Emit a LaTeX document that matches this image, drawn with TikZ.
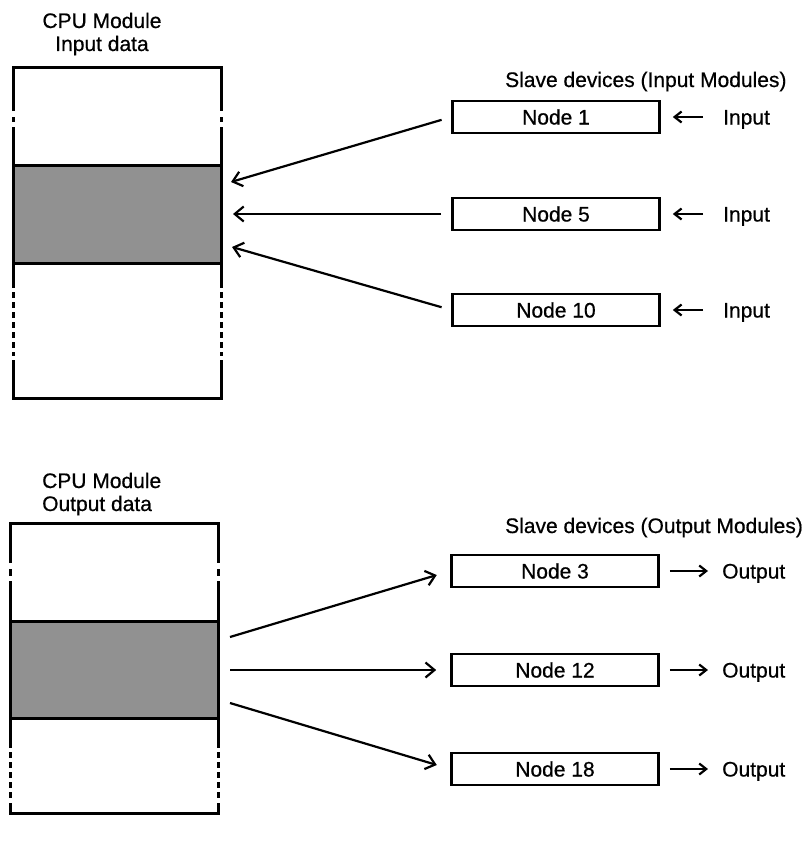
\documentclass[tikz,border=0pt]{standalone}
\usepackage{fontspec}
\setmainfont{Liberation Sans}
\newfontfamily\scanfont{Liberation Sans}[FakeBold=0.6]
\usetikzlibrary{arrows.meta,calc}
\begin{document}
\begin{tikzpicture}[x=1pt,y=-1pt,
  lbl/.style={font=\scanfont\fontsize{21}{25}\selectfont, inner sep=0pt},
  nodebox/.style={draw, line width=2.6pt, minimum width=207pt, minimum height=32pt, inner sep=0pt, font=\scanfont\fontsize{21}{25}\selectfont},
  memline/.style={line width=3pt},
  bandfill/.style={fill={rgb,255:red,145;green,145;blue,145}},
  bigarr/.style={line width=2.2pt, -{Straight Barb[length=9pt,width=15pt]}},
  smallarr/.style={line width=2.2pt, -{Straight Barb[length=7pt,width=11pt]}},
]
\useasboundingbox[fill=white] (0,0) rectangle (811,851);

% ---------- top memory (input data) ----------
\node[lbl, anchor=base] (cpu1) at (102,28) {CPU Module};
\node[lbl, anchor=base] (ind) at (102,51) {Input data};
\fill[bandfill] (13,165) rectangle (221,263);
\draw[memline] (13,111) -- (13,68) -- (221,68) -- (221,111);
\draw[memline] (13,360) -- (13,398) -- (221,398) -- (221,360);
\draw[memline] (13,165) -- (221,165);
\draw[memline] (13,263) -- (221,263);
\foreach \x in {13,221} {
  \draw[memline] (\x,117) -- (\x,122);
  \draw[memline] (\x,127) -- (\x,288);
  \draw[memline, dash pattern=on 6pt off 4pt] (\x,292) -- (\x,356);
}

% ---------- bottom memory (output data) ----------
\node[lbl, anchor=base west] (cpu2) at (42,488) {CPU Module};
\node[lbl, anchor=base west] (outd) at (42,511) {Output data};
\fill[bandfill] (10,621) rectangle (218,718);
\draw[memline] (10,563) -- (10,523) -- (218,523) -- (218,563);
\draw[memline] (10,803) -- (10,813) -- (218,813) -- (218,803);
\draw[memline] (10,621) -- (218,621);
\draw[memline] (10,718) -- (218,718);
\foreach \x in {10,218} {
  \draw[memline] (\x,569) -- (\x,576);
  \draw[memline] (\x,581) -- (\x,748);
  \draw[memline, dash pattern=on 6pt off 4pt] (\x,752) -- (\x,800);
}

% ---------- input slave devices ----------
\node[lbl, anchor=base west] (sin) at (505,87) {Slave devices (Input Modules)};
\node[nodebox] (n1) at (556,117) {Node 1};
\node[nodebox] (n5) at (556,214) {Node 5};
\node[nodebox] (n10) at (556,310) {Node 10};
\node[lbl, anchor=base west] (i1) at (723,124.5) {Input};
\node[lbl, anchor=base west] (i5) at (723,221.5) {Input};
\node[lbl, anchor=base west] (i10) at (723,317.5) {Input};
\foreach \n/\i in {n1/i1,n5/i5,n10/i10}
  \draw[smallarr, shorten <=20pt, shorten >=12pt] (\i.west |- \n.east) -- (\n.east);

\coordinate (b1) at (231,182);
\coordinate (b5) at (233,214);
\coordinate (b10) at (232,247);
\draw[bigarr, shorten <=10pt] (n1.west) -- (b1);
\draw[bigarr, shorten <=10pt] (n5.west) -- (b5);
\draw[bigarr, shorten <=10pt] (n10.west) -- (b10);

% ---------- output slave devices ----------
\node[lbl, anchor=base west] (sout) at (505,533) {Slave devices (Output Modules)};
\node[nodebox] (n3) at (555,571) {Node 3};
\node[nodebox] (n12) at (555,670) {Node 12};
\node[nodebox] (n18) at (555,769) {Node 18};
\node[lbl, anchor=base west] (o3) at (722,578.5) {Output};
\node[lbl, anchor=base west] (o12) at (722,677.5) {Output};
\node[lbl, anchor=base west] (o18) at (722,776.5) {Output};
\foreach \n/\o in {n3/o3,n12/o12,n18/o18}
  \draw[smallarr, shorten <=10pt, shorten >=14pt] (\n.east) -- (\o.west |- \n.east);

\coordinate (c3) at (230,637);
\coordinate (c12) at (230,670);
\coordinate (c18) at (230,703);
\draw[bigarr, shorten >=14pt] (c3) -- (n3.west);
\draw[bigarr, shorten >=14pt] (c12) -- (n12.west);
\draw[bigarr, shorten >=14pt] (c18) -- (n18.west);
\end{tikzpicture}
\end{document}
